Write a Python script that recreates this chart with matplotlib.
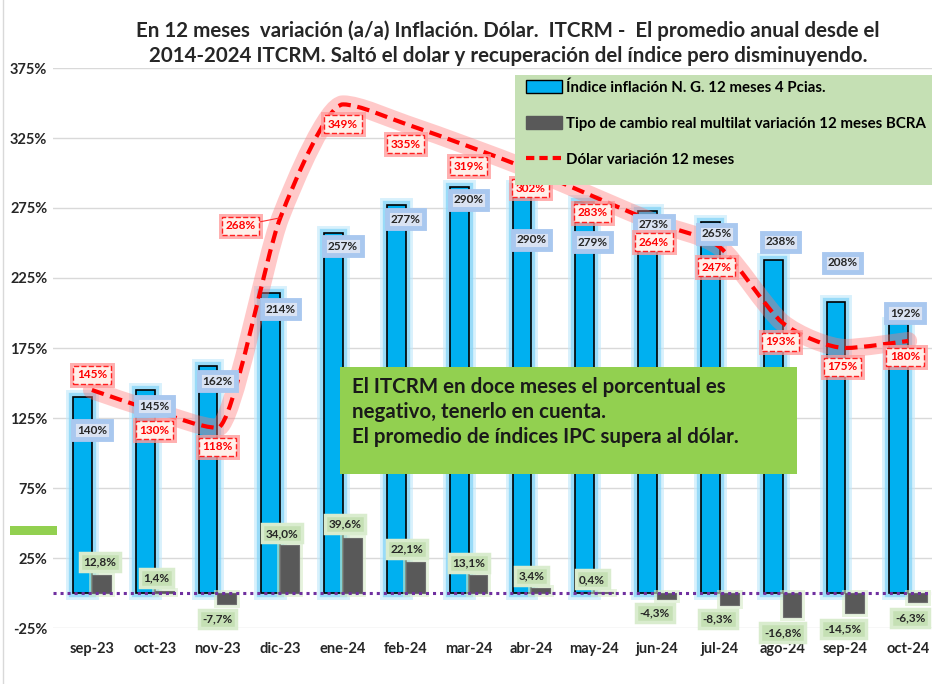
import numpy as np
import matplotlib
matplotlib.use("Agg")
import matplotlib.pyplot as plt
from matplotlib.path import Path
from matplotlib.patches import PathPatch, Rectangle, Patch
from matplotlib.lines import Line2D
import matplotlib.patheffects as pe

plt.rcParams['font.family'] = ['Lato', 'DejaVu Sans']

# ---------------- data ----------------
categories = ["sep-23", "oct-23", "nov-23", "dic-23", "ene-24", "feb-24", "mar-24",
              "abr-24", "may-24", "jun-24", "jul-24", "ago-24", "sep-24", "oct-24"]
inflacion = [140, 145, 162, 214, 257, 277, 290, 290, 279, 273, 265, 238, 208, 192]
itcrm = [12.8, 1.4, -7.7, 34.0, 39.6, 22.1, 13.1, 3.4, 0.4, -4.3, -8.3, -16.8, -14.5, -6.3]
dolar = [145, 130, 118, 268, 349, 335, 319, 302, 283, 264, 247, 193, 175, 180]
yticks = [-25, 25, 75, 125, 175, 225, 275, 325, 375]

title = ("En 12 meses  variación (a/a) Inflación. Dólar.  ITCRM -  El promedio anual desde el\n"
         "2014-2024 ITCRM. Saltó el dolar y recuperación del índice pero disminuyendo.")
note = ("El ITCRM en doce meses el porcentual es\n"
        "negativo, tenerlo en cuenta.\n"
        "El promedio de índices IPC supera al dólar.")
legend_labels = ["Índice inflación N. G. 12 meses 4 Pcias.",
                 "Tipo de cambio real multilat variación 12 meses BCRA",
                 "Dólar variación 12 meses"]

# label offsets (pixels) -- styling
red_off = [(0, 15), (0, -19), (0, -19), (-40, -8), (0, -20), (0, -20), (0, -20),
           (-1, -18), (-2, -16), (-3, -19), (-3, -20), (-2, -19), (-3, -19), (-3, -16)]
blue_off = [(0, -33), (0, -16), (0, -15), (0, -16), (0, -13), (0, -14), (0, -13),
            (0, -53), (-2, -40), (-3, -14), (-3, -12), (-2, 18), (-3, 39), (-3, 11)]
gray_off = [(8, 13), (2, 13), (0, -15), (2, 12), (2, 14), (1, 13), (0, 12),
            (0, 12), (-2, 13), (-2, -14), (-2, -14), (0, -16), (-2, -16), (2, -16)]

W, H = 932, 684
fig = plt.figure(figsize=(W / 100, H / 100), dpi=100)
fig.patch.set_facecolor('white')

left_px, right_px, top_px, bot_px = 53, 932, 68, 628
ax = fig.add_axes([left_px / W, 1 - bot_px / H, (right_px - left_px) / W, (bot_px - top_px) / H])
ax.set_facecolor('none')

x = np.arange(len(categories))
bw = 0.30
ax.set_xlim(-0.62, 13.38)
ax.set_ylim(-25, 375)
ax.set_yticks(yticks)
ax.set_yticklabels([f"{t}%" for t in yticks], fontsize=10.5, fontweight='bold', color='#262626')
ax.set_xticks(x)
ax.set_xticklabels(categories, fontsize=10.5, fontweight='bold', color='#262626')
ax.tick_params(length=0)
ax.tick_params(axis='x', pad=10)
ax.tick_params(axis='y', pad=4)
for s in ax.spines.values():
    s.set_visible(False)
ax.grid(axis='y', color='#d9d9d9', lw=1)
ax.set_axisbelow(True)

# blue bars with glow
bars_b = ax.bar(x - bw / 2, inflacion, bw, color='#00b0f0', edgecolor='black', lw=1.2, zorder=2)
for b in bars_b:
    b.set_path_effects([pe.Stroke(linewidth=10, foreground='#bfe8fb', alpha=0.6),
                        pe.Stroke(linewidth=6, foreground='#7fd3f7', alpha=0.7),
                        pe.Normal()])
# gray bars
bars_g = ax.bar(x + bw / 2, itcrm, bw, color='#595959', edgecolor='#6d6d6d', lw=0.8, zorder=3)
for b in bars_g:
    b.set_path_effects([pe.Stroke(linewidth=5, foreground='#d6ecc8', alpha=0.6), pe.Normal()])

# zero line
ax.axhline(0, color='#7030a0', lw=2.2, ls=(0, (1, 1.3)), zorder=4)

# lightly smoothed dollar line (Bezier through the data points, no overshoot at extrema)
pts = np.column_stack([x, dolar]).astype(float)
n = len(pts)
k = 1 / 8.0
tang = []
for i in range(n):
    p0 = pts[i - 1] if i > 0 else pts[i]
    p2 = pts[i + 1] if i < n - 1 else pts[i]
    t = (p2 - p0) * k
    if 0 < i < n - 1:
        s1 = pts[i][1] - pts[i - 1][1]
        s2 = pts[i + 1][1] - pts[i][1]
        if s1 * s2 <= 0:
            t = np.array([t[0], 0.0])
    tang.append(t)
verts = [pts[0]]
codes = [Path.MOVETO]
for i in range(n - 1):
    verts += [pts[i] + tang[i], pts[i + 1] - tang[i + 1], pts[i + 1]]
    codes += [Path.CURVE4] * 3
path = Path(verts, codes)
ax.add_patch(PathPatch(path, fill=False, ec='#ff7a7a', lw=13, alpha=0.40, zorder=5,
                       capstyle='round', joinstyle='round'))
ax.add_patch(PathPatch(path, fill=False, ec='#ff0000', lw=3, ls=(0, (3, 1.6)), zorder=6))

# labels
for i, v in enumerate(inflacion):
    dx, dy = blue_off[i]
    ax.annotate(f"{v:.0f}%", (x[i], v), xytext=(dx, dy), textcoords='offset pixels',
                ha='center', va='center', fontsize=8.5, fontweight='bold', color='#262626',
                zorder=8,
                bbox=dict(boxstyle='square,pad=0.3', fc='#dae3f3', ec='#a9c8ef', lw=3.5))
for i, v in enumerate(itcrm):
    dx, dy = gray_off[i]
    ax.annotate(f"{v:.1f}%".replace('.', ','), (x[i], v), xytext=(dx, dy),
                textcoords='offset pixels', ha='center', va='center', fontsize=8.5,
                fontweight='bold', color='#262626', zorder=8,
                bbox=dict(boxstyle='square,pad=0.3', fc='#c5e0b4', ec='#d9ecce', lw=2.5))
for i, v in enumerate(dolar):
    dx, dy = red_off[i]
    ax.annotate(f"{v:.0f}%", (x[i], v), xytext=(dx, dy), textcoords='offset pixels',
                ha='center', va='center', fontsize=8.5, fontweight='bold', color='#ff0000',
                zorder=9,
                bbox=dict(boxstyle='square,pad=0.3', fc='#ffd0c8', ec='#ff9c9c', lw=5, alpha=0.8))
    arrow = dict(arrowstyle='-', color='#ff3030', lw=0.8, shrinkA=0, shrinkB=0) if abs(dx) > 20 else None
    ax.annotate(f"{v:.0f}%", (x[i], v), xytext=(dx, dy), textcoords='offset pixels',
                ha='center', va='center', fontsize=8.5, fontweight='bold', color='#ff0000',
                zorder=10, arrowprops=arrow,
                bbox=dict(boxstyle='square,pad=0.3', fc='#fff0ea', ec='#ff2020', lw=1, ls='--'))

# title
fig.text(508 / W, 1 - 43 / H, title, ha='center', va='center', fontsize=14.8,
         fontweight='bold', color='#262626', linespacing=1.3)

# chart border at left
fig.add_artist(Rectangle((3 / W, -0.01), 1, 1.2, transform=fig.transFigure, fill=False,
                         ec='#d9d9d9', lw=1))

# stray green mark
fig.add_artist(Rectangle((10 / W, 1 - 535 / H), 47 / W, 9 / H, transform=fig.transFigure,
                         fc='#92d050', ec='none', zorder=5))

# note box
fig.add_artist(Rectangle((340 / W, 1 - 474 / H), 457 / W, 107 / H, transform=fig.transFigure,
                         fc='#92d050', ec='none', zorder=20))
fig.text(352 / W, 1 - 412 / H, note, ha='left', va='center', fontsize=14.8,
         fontweight='bold', color='#1a1a1a', linespacing=1.33, zorder=21)

# legend
fig.add_artist(Rectangle((515 / W, 1 - 185 / H), (W - 515) / W, 110 / H,
                         transform=fig.transFigure, fc='#c5e0b4', ec='none', zorder=20))
handles = [Patch(fc='#00b0f0', ec='black', lw=1),
           Patch(fc='#595959', ec='#595959'),
           Line2D([0], [0], color='#ff0000', lw=3, ls=(0, (2, 1.2)))]
leg = fig.legend(handles, legend_labels, loc='upper left',
                 bbox_to_anchor=(514 / W, 1 - 68 / H), frameon=False,
                 prop={'weight': 'bold', 'size': 10.8}, labelspacing=1.45,
                 handlelength=2.4, handleheight=0.9, handletextpad=0.25, borderpad=0.3)
leg.set_zorder(22)

fig.savefig("out.png", dpi=100)
